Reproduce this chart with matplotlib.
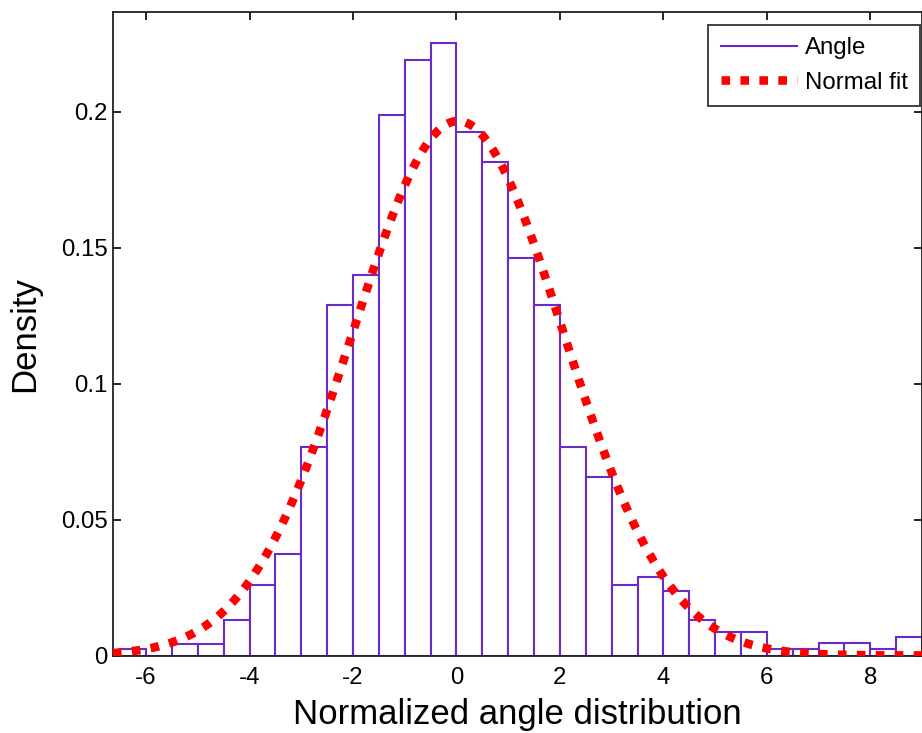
import numpy as np
import matplotlib
matplotlib.use("Agg")
import matplotlib.pyplot as plt
from matplotlib.lines import Line2D

plt.rcParams["font.family"] = ["Liberation Sans", "DejaVu Sans"]

# histogram of the normalized angle (bin edges and density per bin)
bin_edges = [-6.5, -6.0, -5.5, -5.0, -4.5, -4.0, -3.5, -3.0, -2.5, -2.0, -1.5,
             -1.0, -0.5, 0.0, 0.5, 1.0, 1.5, 2.0, 2.5, 3.0, 3.5, 4.0, 4.5,
             5.0, 5.5, 6.0, 6.5, 7.0, 7.5, 8.0, 8.5, 9.0]
density = [0.0023, 0.0, 0.0043, 0.0043, 0.0129, 0.0260, 0.0373, 0.0767,
           0.1290, 0.1400, 0.1988, 0.2190, 0.2251, 0.1926, 0.1816, 0.1463,
           0.1290, 0.0767, 0.0656, 0.0261, 0.0288, 0.0239, 0.0129, 0.0086,
           0.0086, 0.0023, 0.0023, 0.0045, 0.0045, 0.0025, 0.0067]

# normal fit parameters
fit_mu = 0.03
fit_sigma = 2.03

x_ticks = [-6, -4, -2, 0, 2, 4, 6, 8]
y_ticks = [0, 0.05, 0.1, 0.15, 0.2]
y_ticklabels = ["0", "0.05", "0.1", "0.15", "0.2"]

PURPLE = "#6a2bc8"
RED = "#ff0000"

fig = plt.figure(figsize=(9.22, 7.33), dpi=100)
ax = fig.add_axes([113 / 922, 1 - 655.5 / 733, 1 - 113 / 922, (655.5 - 12.3) / 733])

edges = np.array(bin_edges)
ax.bar(edges[:-1], density, width=np.diff(edges), align="edge",
       facecolor="white", edgecolor=PURPLE, linewidth=1.5, zorder=2)

xlim = (-6.64, 9.0)
xs = np.linspace(xlim[0], xlim[1], 600)
pdf = np.exp(-0.5 * ((xs - fit_mu) / fit_sigma) ** 2) / (fit_sigma * np.sqrt(2 * np.pi))
fit_line, = ax.plot(xs, pdf, color=RED, linewidth=6.2, linestyle=(0, (1, 1.2)),
                    dash_capstyle="butt", zorder=3)

ax.set_xlim(*xlim)
ax.set_ylim(0, 0.2365)
ax.set_xticks(x_ticks)
ax.set_xticklabels([str(t) for t in x_ticks])
ax.set_yticks(y_ticks)
ax.set_yticklabels(y_ticklabels)
ax.tick_params(direction="in", top=True, right=True, length=5.5, width=1.2,
               labelsize=17.3, pad=8)
ax.tick_params(axis="y", pad=4)
for s in ax.spines.values():
    s.set_linewidth(1.3)
    s.set_color("#222222")

ax.set_xlabel("Normalized angle distribution", fontsize=25, labelpad=7)
ax.set_ylabel("Density", fontsize=25, labelpad=14)

handles = [Line2D([], [], color=PURPLE, linewidth=1.5), fit_line]
leg = ax.legend(handles, ["Angle", "Normal fit"], loc="upper right",
                bbox_to_anchor=(920 / 922, 1 - 25 / 733), bbox_transform=fig.transFigure,
                fontsize=17.3, handlelength=3.2, handletextpad=0.3,
                labelspacing=0.5, borderpad=0.52, borderaxespad=0,
                fancybox=False, framealpha=1)
leg.get_frame().set_edgecolor("#333333")
leg.get_frame().set_linewidth(1.3)

fig.savefig("out.png", dpi=100)
